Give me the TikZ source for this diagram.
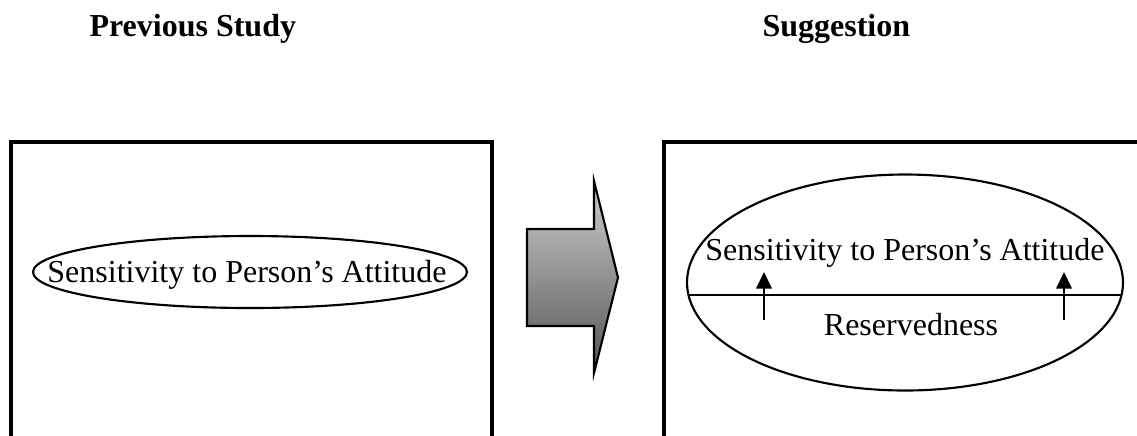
\documentclass[tikz,border=0pt]{standalone}
\usepackage{fontspec}
\setmainfont{Liberation Serif}
\usetikzlibrary{shapes.geometric,arrows.meta,calc}

\tikzset{
  panel/.style={line width=1.2pt},
  oval/.style={ellipse, draw, line width=0.8pt, inner sep=0pt},
  label/.style={inner sep=0pt, anchor=base, font=\fontsize{12pt}{14pt}\selectfont},
  heading/.style={inner sep=0pt, anchor=base west, font=\fontsize{12pt}{14pt}\selectfont\bfseries},
  divider/.style={line width=0.6pt},
  lift/.style={line width=0.8pt, -{Triangle[width=5.8pt,length=6.2pt]}},
  bigarrow/.style={draw, line width=0.8pt, line join=miter,
    top color={rgb,255:red,205;green,205;blue,205},
    bottom color={rgb,255:red,85;green,85;blue,85}}
}

\begin{document}
\begin{tikzpicture}[x=0.375pt,y=-0.375pt]
\useasboundingbox (0,0) rectangle (1137,435);

% headings
\node[heading] (hprev) at (89,36) {Previous Study};
\node[heading] (hsugg) at (762,36) {Suggestion};

% open-bottomed panels
\begin{scope}
  \clip (0,0) rectangle (1137,435);
  \draw[panel] (11,450) -- (11,142) -- (492,142) -- (492,450);
  \draw[panel] (664,450) -- (664,142) -- (1150,142);
\end{scope}

% left panel
\node[oval, minimum width=162.75pt, minimum height=27pt] (lell) at (250,272) {};
\node[label] (ltext) at (247,282) {Sensitivity to Person’s Attitude};

% transition arrow
\path[bigarrow] (527,229) -- (594,229) -- (594,181) -- (618,277.5)
  -- (594,373) -- (594,326) -- (527,326) -- cycle;

% right panel
\node[oval, minimum width=163.5pt, minimum height=81pt] (rell) at (905,282.5) {};
\coordinate (divl) at ($(rell.center)+(-216.5,12.5)$);
\coordinate (divr) at ($(rell.center)+(216.5,12.5)$);
\draw[divider] (divl) -- (divr);
\node[label] (rtop) at (905,260) {Sensitivity to Person’s Attitude};
\node[label] (rbot) at (911,335) {Reservedness};
\coordinate (a1s) at (764,320);
\coordinate (a1e) at (764,272);
\coordinate (a2s) at (1064,320);
\coordinate (a2e) at (1064,272);
\draw[lift] (a1s) -- (a1e);
\draw[lift] (a2s) -- (a2e);
\end{tikzpicture}
\end{document}
